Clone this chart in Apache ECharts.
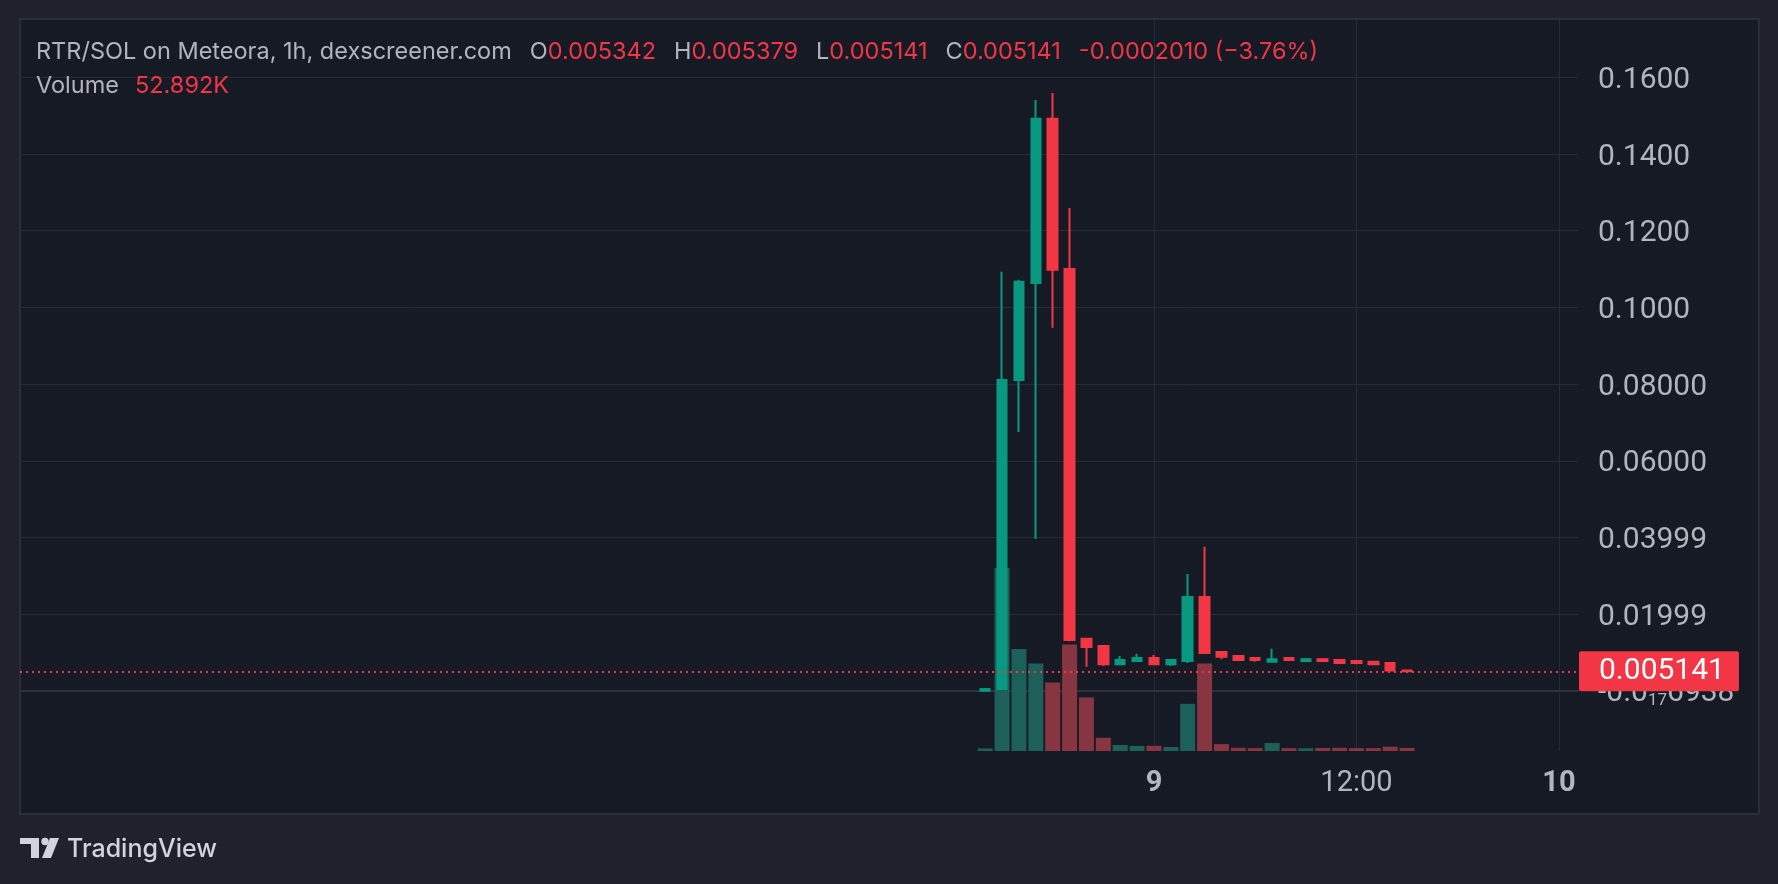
<!DOCTYPE html>
<html>
<head>
<meta charset="utf-8">
<title>RTR/SOL on Meteora</title>
<script src="https://cdn.jsdelivr.net/npm/echarts@6/dist/echarts.min.js"></script>
<style>
html, body { margin: 0; padding: 0; background: #1f222d; }
#main { width: 1778px; height: 884px; }
</style>
</head>
<body>
<div id="main"></div>
<script>
// hour of each 1h candle, counted from day 8 00:00
var hours   = [14, 15, 16, 17, 18, 19, 20, 21, 22, 23, 24, 25, 26, 27, 28, 29, 30, 31, 32, 33, 34, 35, 36, 37, 38, 39];
var opens   = [0.00005, 0.0005, 0.0811, 0.1064, 0.1492, 0.1100, 0.0136, 0.0117, 0.0070, 0.0078, 0.0086, 0.0070, 0.0078,
               0.0245, 0.0102, 0.0091, 0.0086, 0.0076, 0.0086, 0.0078, 0.0083, 0.0081, 0.0078, 0.0076, 0.0073, 0.005342];
var closes  = [0.0005, 0.0811, 0.1067, 0.1492, 0.1098, 0.0133, 0.0115, 0.0070, 0.0081, 0.0086, 0.0070, 0.0081, 0.0245,
               0.0099, 0.0089, 0.0081, 0.0081, 0.0083, 0.0081, 0.0083, 0.0078, 0.0073, 0.0073, 0.0070, 0.005342, 0.005141];
var lows    = [0.00005, 0.0005, 0.0675, 0.0396, 0.0947, 0.0130, 0.0063, 0.0065, 0.0070, 0.0078, 0.0070, 0.0065, 0.0073,
               0.0098, 0.0083, 0.0081, 0.0076, 0.0076, 0.0078, 0.0078, 0.0078, 0.0073, 0.0070, 0.0070, 0.0052, 0.005141];
var highs   = [0.0005, 0.1093, 0.1072, 0.1541, 0.1559, 0.1259, 0.0136, 0.0117, 0.0091, 0.0097, 0.0094, 0.0081, 0.0305,
               0.0376, 0.0102, 0.0091, 0.0086, 0.0110, 0.0086, 0.0083, 0.0083, 0.0081, 0.0078, 0.0076, 0.0073, 0.005379];
// volume in thousands
var volumes = [45, 3180, 1770, 1520, 1190, 1850, 930, 230, 105, 88, 90, 70, 820,
               1520, 120, 55, 50, 140, 50, 48, 52, 55, 50, 50, 75, 52.892];

var priceTicks  = [0, 0.02, 0.04, 0.06, 0.08, 0.10, 0.12, 0.14, 0.16];
var priceLabels = ['-0.0{s|17}6938', '0.01999', '0.03999', '0.06000', '0.08000', '0.1000', '0.1200', '0.1400', '0.1600'];
var timeTicks   = [24, 36, 48];
var timeLabels  = ['{b|9}', '12:00', '{b|10}'];

var UP = '#089981', DOWN = '#f23645';
var UP_VOL = '#1d5f59', DOWN_VOL = '#873540';
var TXT = '#b2b5be', GRID = '#272b36';
var FONT = 'Inter, "Noto Sans", sans-serif';
var AXIS_FONT = 'Roboto, "Noto Sans", sans-serif';

var candleData = hours.map(function (h, i) {
    return [h, opens[i], closes[i], lows[i], highs[i]];
});
var volumeData = hours.map(function (h, i) {
    return {value: [h, volumes[i]], itemStyle: {color: closes[i] >= opens[i] ? UP_VOL : DOWN_VOL}};
});

var n = hours.length;
var lastO = opens[n - 1], lastH = highs[n - 1], lastL = lows[n - 1], lastC = closes[n - 1];
var chg = lastC - closes[n - 2];
var chgPct = (chg / closes[n - 2] * 100).toFixed(2).replace('-', '\u2212');
var header = '{g|RTR/SOL on Meteora, 1h, dexscreener.com}{gap| }' +
    '{g|O}{r|' + lastO.toFixed(6) + '}{gap| }' +
    '{g|H}{r|' + lastH.toFixed(6) + '}{gap| }' +
    '{g|L}{r|' + lastL.toFixed(6) + '}{gap| }' +
    '{g|C}{r|' + lastC.toFixed(6) + '}{gap| }' +
    '{r|' + chg.toFixed(7) + ' (' + chgPct + '%)}';
var volText = '{g|Volume}{vgap| }{r|' + volumes[n - 1].toFixed(3) + 'K}';
var headerRich = {
    g: {fill: TXT, fontSize: 23.5, fontFamily: FONT},
    r: {fill: DOWN, fontSize: 23.5, fontFamily: FONT},
    gap: {width: 18, fontSize: 23.5},
    vgap: {width: 16, fontSize: 23.5}
};

function nearestIndex(arr, v) {
    var best = 0;
    for (var i = 1; i < arr.length; i++) {
        if (Math.abs(arr[i] - v) < Math.abs(arr[best] - v)) best = i;
    }
    return best;
}

var myChart = echarts.init(document.getElementById('main'));
var option = {
    backgroundColor: '#1f222d',
    animation: false,
    textStyle: {fontFamily: FONT},
    grid: {left: 20, right: 200, top: 20, bottom: 133},
    graphic: [
        {type: 'rect', z: -10, shape: {x: 20, y: 19, width: 1739, height: 795},
            style: {fill: '#161a25', stroke: '#2a2e39', lineWidth: 2}},
        {type: 'text', z: 100, style: {x: 36, y: 52, verticalAlign: 'middle', text: header, rich: headerRich}},
        {type: 'text', z: 100, style: {x: 36, y: 86, verticalAlign: 'middle', text: volText, rich: headerRich}},
        // TradingView logo
        {type: 'rect', shape: {x: 20, y: 838, width: 19, height: 6}, style: {fill: '#d1d4dc'}},
        {type: 'rect', shape: {x: 31, y: 838, width: 8, height: 20}, style: {fill: '#d1d4dc'}},
        {type: 'circle', shape: {cx: 45, cy: 841.5, r: 3.7}, style: {fill: '#d1d4dc'}},
        {type: 'polygon', shape: {points: [[50, 838], [59, 838], [51, 858], [42, 858]]}, style: {fill: '#d1d4dc'}},
        {type: 'text', style: {x: 67, y: 849, verticalAlign: 'middle', text: 'TradingView',
            fill: '#d1d4dc', fontSize: 25, fontWeight: 500, fontFamily: FONT}}
    ],
    xAxis: {
        type: 'value',
        min: -43.2,
        max: 49.13,
        axisLine: {show: true, lineStyle: {color: '#2e323d', width: 2}},
        axisTick: {show: false, customValues: timeTicks},
        splitLine: {show: true, lineStyle: {color: GRID, width: 1}},
        axisLabel: {
            customValues: timeTicks,
            margin: 18,
            color: TXT,
            fontSize: 29,
            fontFamily: AXIS_FONT,
            formatter: function (v) { return timeLabels[nearestIndex(timeTicks, v)]; },
            rich: {b: {fontWeight: 'bold', fontSize: 29, color: TXT, fontFamily: AXIS_FONT}}
        }
    },
    yAxis: [
        {
            type: 'value',
            position: 'right',
            min: -0.015643,
            max: 0.17494,
            axisLine: {show: false},
            axisTick: {show: false, customValues: priceTicks},
            splitLine: {show: true, lineStyle: {color: GRID, width: 1}},
            axisLabel: {
                customValues: priceTicks,
                margin: 20,
                color: TXT,
                fontSize: 30,
                fontFamily: AXIS_FONT,
                padding: [6, 0, 0, 0],
                formatter: function (v) { return priceLabels[nearestIndex(priceTicks, v)]; },
                rich: {s: {fontSize: 17, color: TXT, fontFamily: AXIS_FONT, padding: [14, 0, 0, 0]}}
            }
        },
        {
            type: 'value',
            min: 0,
            max: 12700,
            show: false,
            splitLine: {show: false}
        }
    ],
    series: [
        {
            name: 'Volume',
            type: 'bar',
            yAxisIndex: 1,
            barWidth: 15,
            data: volumeData
        },
        {
            name: 'RTR/SOL',
            type: 'candlestick',
            barWidth: 10,
            itemStyle: {color: UP, color0: DOWN, borderColor: UP, borderColor0: DOWN, borderWidth: 2},
            data: candleData,
            markLine: {
                silent: true,
                symbol: 'none',
                precision: 8,
                data: [{yAxis: lastC}],
                lineStyle: {color: DOWN, type: [2, 4], width: 2},
                label: {
                    position: 'end',
                    distance: 1,
                    formatter: lastC.toFixed(6),
                    color: '#ffffff',
                    fontSize: 30,
                    lineHeight: 30,
                    fontFamily: AXIS_FONT,
                    backgroundColor: DOWN,
                    borderRadius: 2,
                    padding: [5, 14, 5, 20]
                }
            }
        }
    ]
};
myChart.setOption(option);
</script>
</body>
</html>
